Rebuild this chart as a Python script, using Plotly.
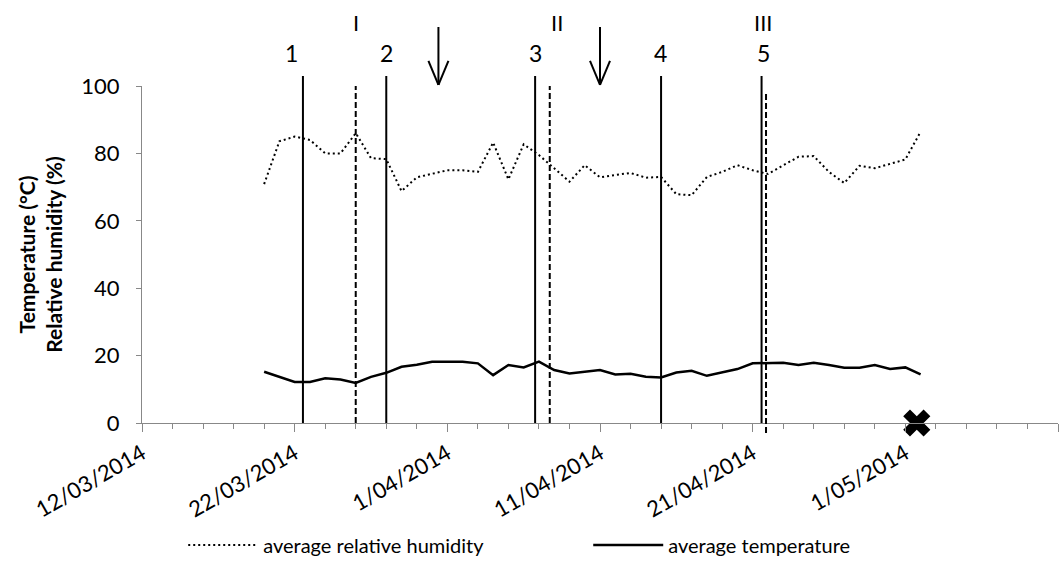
import pandas as pd
import plotly.graph_objects as go

# ---- data ----
dates = pd.date_range("2014-03-20", "2014-05-02", freq="D")
humidity = [70.9, 83.6, 85.0, 84.0, 80.0, 80.0, 86.0, 78.6, 78.3, 68.8, 72.9, 74.0, 75.0, 75.0,
            74.5, 83.2, 72.3, 82.7, 79.5, 75.6, 71.6, 76.5, 72.9, 73.6, 74.2, 72.8, 73.0, 67.9,
            67.6, 73.0, 74.5, 76.5, 75.0, 73.9, 76.5, 79.0, 79.2, 74.5, 71.2, 76.3, 75.6, 77.0,
            78.2, 86.4]
temperature = [15.2, 13.7, 12.2, 12.2, 13.3, 12.9, 11.9, 13.7, 14.9, 16.7, 17.3, 18.2, 18.2, 18.2,
               17.7, 14.2, 17.2, 16.5, 18.2, 15.7, 14.7, 15.2, 15.7, 14.4, 14.6, 13.7, 13.5, 15.0,
               15.5, 14.0, 15.0, 16.0, 17.7, 17.7, 17.9, 17.2, 17.9, 17.2, 16.4, 16.4, 17.2, 16.0,
               16.5, 14.4]

event_labels = ["1", "2", "3", "4", "5"]
event_dates = ["2014-03-22 13:00", "2014-03-28 00:00", "2014-04-06 18:00",
               "2014-04-15 00:00", "2014-04-21 14:00"]
phase_labels = ["I", "II", "III"]
phase_dates = ["2014-03-26 00:00", "2014-04-07 17:00", "2014-04-21 21:00"]
arrow_dates = ["2014-03-31 10:00", "2014-04-11 00:00"]
end_marker_date = ["2014-05-01 18:00"]
end_marker_value = [0]

x_range = ["2014-03-12", "2014-05-11"]
FONT = "Lato, 'Open Sans', sans-serif"
DAY = 86400000

fig = go.Figure()
fig.add_trace(go.Scatter(x=dates, y=humidity, mode="lines", name="average relative humidity",
                         line=dict(color="black", width=2, dash="2px,3px")))
fig.add_trace(go.Scatter(x=dates, y=temperature, mode="lines", name="average temperature",
                         line=dict(color="black", width=2.5)))
fig.add_trace(go.Scatter(x=end_marker_date, y=end_marker_value, mode="markers", showlegend=False,
                         cliponaxis=False,
                         marker=dict(symbol="x", size=24, color="black")))

shapes = []
annotations = []
label_shift_num = [-11, 0, 0, -1, 2]
for lab, d, sh in zip(event_labels, event_dates, label_shift_num):
    shapes.append(dict(type="line", xref="x", yref="paper", x0=d, x1=d, y0=0, y1=1.03,
                       line=dict(color="black", width=2)))
    annotations.append(dict(text=lab, x=d, xref="x", y=1.098, yref="paper", yanchor="middle",
                            showarrow=False, xshift=sh,
                            font=dict(size=23, color="black", family=FONT)))
phase_top = [1.0, 1.0, 0.98]
phase_bottom = [0, 0, -0.03]
label_shift_phase = [0, 7, -3]
for lab, d, top, bot, sh in zip(phase_labels, phase_dates, phase_top, phase_bottom, label_shift_phase):
    shapes.append(dict(type="line", xref="x", yref="paper", x0=d, x1=d, y0=bot, y1=top,
                       line=dict(color="black", width=2, dash="6px,3px")))
    annotations.append(dict(text=lab, x=d, xref="x", y=1.187, yref="paper", yanchor="middle",
                            showarrow=False, xshift=sh,
                            font=dict(size=22, color="black", family=FONT)))
for d in arrow_dates:
    for (px, py) in [(0, 58), (-10, 24), (10, 24)]:
        shapes.append(dict(type="line", xref="x", yref="paper", xsizemode="pixel",
                           ysizemode="pixel", xanchor=d, yanchor=1.003,
                           x0=0, y0=0, x1=px, y1=py, line=dict(color="black", width=2)))

fig.update_layout(
    width=1062, height=563,
    margin=dict(l=142, r=4, t=86, b=140, autoexpand=False),
    paper_bgcolor="white", plot_bgcolor="white",
    font=dict(family=FONT, size=20, color="black"),
    shapes=shapes, annotations=annotations,
    legend=dict(orientation="h", x=0.045, xanchor="left", y=-0.362, yanchor="middle",
                font=dict(size=20, family=FONT), entrywidth=320, itemwidth=70,
                bgcolor="rgba(0,0,0,0)"),
    showlegend=True,
)
fig.update_xaxes(
    type="date", range=x_range, showgrid=False, zeroline=False,
    showline=True, linecolor="#888888", linewidth=1.3,
    tickmode="linear", tick0="2014-03-12", dtick=10 * DAY, tickformat="%-d/%m/%Y",
    ticks="outside", ticklen=8, tickcolor="#888888", tickangle=-30,
    tickfont=dict(size=22, family=FONT),
    minor=dict(tick0="2014-03-12", dtick=2 * DAY, ticks="outside", ticklen=5, tickcolor="#888888"),
)
fig.update_yaxes(
    range=[0, 100], dtick=20, showgrid=False, zeroline=False,
    showline=True, linecolor="#888888", linewidth=1.3,
    ticks="outside", ticklen=5, tickcolor="#888888", ticklabelstandoff=12,
    tickfont=dict(size=22, family=FONT),
    title=dict(text="<b>Temperature (°C)<br>Relative humidity (%)</b>", font=dict(size=21, family=FONT),
               standoff=12),
)

fig.write_html("out.html")
